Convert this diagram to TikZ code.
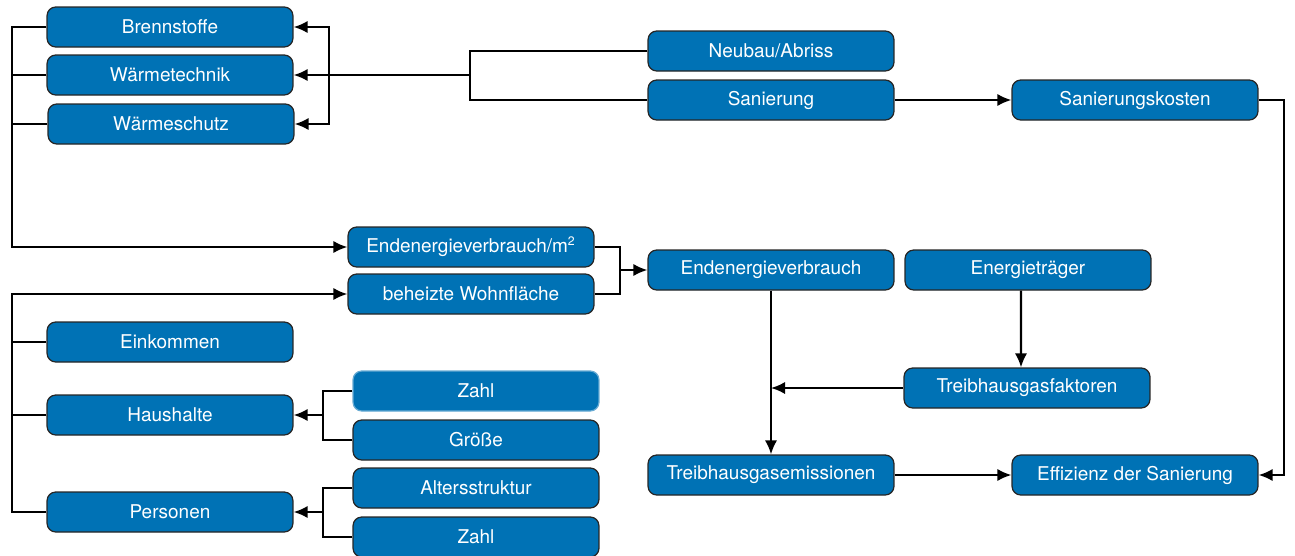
\documentclass[tikz,border=0pt]{standalone}
\usepackage{fontspec}
\setmainfont{TeX Gyre Heros}
\usepackage{tikz}
\usetikzlibrary{positioning,calc,arrows.meta}
\definecolor{boxblue}{RGB}{0,114,181}

\begin{document}
\begin{tikzpicture}[x=0.02cm,y=-0.02cm,line width=1.2pt,
	box/.style={rectangle,rounded corners=5pt,draw=black!85,line width=0.7pt,fill=boxblue,text=white,
		minimum width=4.92cm,minimum height=0.8cm,inner sep=1pt,font=\fontsize{10.8}{12}\selectfont},
	boxlight/.style={box,draw=boxblue!60},
	arr/.style={-{Latex[length=8pt,width=7pt]}}]
		\useasboundingbox (0,0) rectangle (1295,555);
		\def\ca{170}
		\def\cb{471}
		\def\cc{476}
		\def\cd{771}
		\def\ce{1028}
		\def\cf{1135}
		% left column
		\node[box] (brenn) at (\ca,27) {Brennstoffe};
		\node[box] (wtech) at (\ca,75) {Wärmetechnik};
		\node[box] (wschutz) at (\ca+1,124) {Wärmeschutz};
		\node[box] (eink) at (\ca,342) {Einkommen};
		\node[box] (haush) at (\ca,415) {Haushalte};
		\node[box] (pers) at (\ca,512) {Personen};
		% middle
		\node[box] (endm) at (\cb,247) {Endenergieverbrauch/m\textsuperscript{\scriptsize 2}};
		\node[box] (wohn) at (\cb,294) {beheizte Wohnfläche};
		\node[boxlight] (zahlh) at (\cc,391) {Zahl};
		\node[box] (groesse) at (\cc,440) {Größe};
		\node[box] (alter) at (\cc,488) {Altersstruktur};
		\node[box] (zahlp) at (\cc,537) {Zahl};
		% right
		\node[box] (neubau) at (\cd,51) {Neubau/Abriss};
		\node[box] (san) at (\cd,100) {Sanierung};
		\node[box] (kosten) at (\cf,100) {Sanierungskosten};
		\node[box] (endv) at (\cd,270) {Endenergieverbrauch};
		\node[box] (traeger) at (\ce,270) {Energieträger};
		\node[box] (faktor) at (\ce-1,388) {Treibhausgasfaktoren};
		\node[box] (emis) at (\cd,475) {Treibhausgasemissionen};
		\node[box] (eff) at (\cf,475) {Effizienz der Sanierung};

		%buses
		\coordinate (busl) at (12,27);
		\coordinate (busll) at (12,294);
		\coordinate (busr) at (329,75);
		\coordinate (buss) at (470,75);
		\coordinate (buse) at (620,270);
		\coordinate (bush) at (323,415);
		\coordinate (busp) at (323,512);

		\draw[arr] (brenn.west) -- (busl) |- (endm.west);
		\draw (wtech.west) -- (wtech.west -| busl);
		\draw (wschutz.west) -- (wschutz.west -| busl);

		\draw[arr] (pers.west) -| (busll) -- (wohn.west);
		\draw (eink.west) -- (eink.west -| busll);
		\draw (haush.west) -- (haush.west -| busll);

		\draw (neubau.west) -| (buss);
		\draw (san.west) -| (buss);
		\draw[arr] (buss) -- (wtech.east);
		\draw[arr] (busr) |- (brenn.east);
		\draw[arr] (busr) |- (wschutz.east);

		\draw[arr] (san) -- (kosten);
		\draw[arr] (kosten.east) -- ++(25,0) |- (eff.east);

		\draw (endm.east) -| (buse);
		\draw (wohn.east) -| (buse);
		\draw[arr] (buse) -- (endv.west);

		\draw (zahlh.west) -| (bush);
		\draw (groesse.west) -| (bush);
		\draw[arr] (bush) -- (haush.east);
		\draw (alter.west) -| (busp);
		\draw (zahlp.west) -| (busp);
		\draw[arr] (busp) -- (pers.east);

		\draw[arr] (endv) -- (emis);
		\draw[arr] ([xshift=-0.14cm]traeger.south) -- ([xshift=-0.12cm]faktor.north);
		\draw[arr] (faktor.west) -- (faktor.west -| endv.south);
		\draw[arr] (emis) -- (eff);
	\end{tikzpicture}
\end{document}
